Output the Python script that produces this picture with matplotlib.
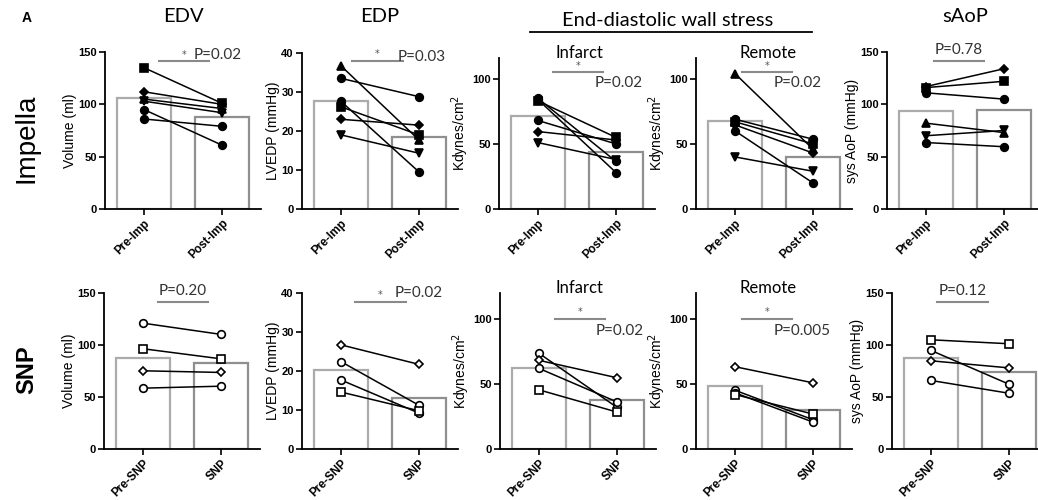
import matplotlib
matplotlib.use("Agg")
import numpy as np
import matplotlib.pyplot as plt

# ---- data ----
imp_labels = ["Pre-Imp", "Post-Imp"]
snp_labels = ["Pre-SNP", "SNP"]

# Impella row (filled markers)
edv_imp_pre = [135, 112, 105, 103, 95, 86]
edv_imp_post = [101, 100, 96, 92, 61, 79]
edp_imp_pre = [36.7, 33.5, 27.6, 26.2, 23.0, 19.0]
edp_imp_post = [17.7, 28.8, 9.5, 19.0, 21.5, 14.3]
inf_imp_pre = [85, 84, 83, 68, 59.5, 51]
inf_imp_post = [36.5, 28, 55, 50, 53, 38]
rem_imp_pre = [104, 69, 67, 64.6, 60, 40]
rem_imp_post = [46, 53.6, 50, 43, 20, 29]
aop_imp_pre = [117, 116, 111, 82, 70, 63.5]
aop_imp_post = [134, 122, 105, 73, 75, 59.5]

# SNP row (open markers)
edv_snp_pre = [121, 96.4, 75.2, 58.5]
edv_snp_post = [110.2, 86.7, 73.6, 60.4]
edp_snp_pre = [26.7, 22.4, 17.7, 14.6]
edp_snp_post = [21.7, 11.2, 9.2, 9.8]
inf_snp_pre = [73.6, 68.2, 62.0, 45.5]
inf_snp_post = [32.0, 54.8, 36.2, 28.4]
rem_snp_pre = [63.3, 45.2, 43.2, 41.9]
rem_snp_post = [50.9, 22.5, 20.7, 26.9]
aop_snp_pre = [105, 94.8, 84.8, 65.9]
aop_snp_post = [101.2, 62.3, 78.0, 53.6]

p_imp = ["P=0.02", "P=0.03", "P=0.02", "P=0.02", "P=0.78"]
p_snp = ["P=0.20", "P=0.02", "P=0.02", "P=0.005", "P=0.12"]
stars_imp = [True, True, True, True, False]
stars_snp = [False, True, True, True, False]

ylabels = ["Volume (ml)", "LVEDP (mmHg)", "Kdynes/cm$^2$", "Kdynes/cm$^2$", "sys AoP (mmHg)"]
yticks = [[0, 50, 100, 150], [0, 10, 20, 30, 40], [0, 50, 100], [0, 50, 100], [0, 50, 100, 150]]

# ---- styling ----
W, H = 1038, 500
BAR_PRE = "#ababab"
BAR_POST = "#8f8f8f"
SIG = "#8a8a8a"
TXT_FONT = "Lato"
AX_FONT = "Liberation Sans"

imp_markers = [
    ["s", "D", "^", "v", "o", "o"],
    ["^", "o", "o", "s", "D", "v"],
    ["o", "o", "s", "o", "D", "v"],
    ["^", "o", "s", "D", "o", "v"],
    ["D", "s", "o", "^", "v", "o"],
]
snp_markers = [
    ["o", "s", "D", "o"],
    ["D", "o", "o", "s"],
    ["o", "D", "o", "s"],
    ["D", "o", "o", "s"],
    ["s", "o", "D", "o"],
]

# significance bar layout: (x0, x1, y_line, text_x, text_y, ha)
sig_imp = [
    (0.19, 0.83, 141, 0.63, 147, "left"),
    (0.14, 0.79, 38, 0.73, 39, "left"),
    (0.19, 0.83, 105, 0.72, 97, "left"),
    (0.09, 0.73, 105, 0.50, 97, "left"),
    (0.10, 0.74, 141, 0.42, 152, "center"),
]
sig_snp = [
    (0.19, 0.83, 141, 0.51, 152, "center"),
    (0.18, 0.83, 37.7, 0.69, 40, "left"),
    (0.20, 0.85, 100, 0.73, 91, "left"),
    (0.09, 0.73, 100, 0.50, 91, "left"),
    (0.08, 0.73, 141, 0.41, 152, "center"),
]

imp_left = [105, 302, 499, 696, 887]
snp_left = [104, 302, 500, 696, 892]
imp_top = [52, 53, 58, 58, 52]
imp_ylim = [150, 40, 116, 116, 150]
snp_ylim = [150, 40, 120, 120, 150]


def make_ax(fig, left, top, bottom, width=156):
    return fig.add_axes([left / W, 1 - bottom / H, width / W, (bottom - top) / H])


def draw_panel(ax, pre, post, markers, filled, xlabels, ymax, ticks, ylabel, sig, ptext, star):
    x = np.array([0, 1])
    ax.bar(x, [np.mean(pre), np.mean(post)], width=0.68, color="white",
           edgecolor=[BAR_PRE, BAR_POST], linewidth=1.6, zorder=1)
    for a, b, m in zip(pre, post, markers):
        ax.plot(x, [a, b], color="black", linewidth=1.1, zorder=3,
                marker=m, markersize=5.5 if m != "D" else 4.5,
                markerfacecolor="black" if filled else "white",
                markeredgecolor="black", markeredgewidth=1.2)
    ax.set_xlim(-0.5, 1.5)
    ax.set_ylim(0, ymax)
    ax.set_yticks(ticks)
    ax.set_xticks(x)
    ax.set_xticklabels(xlabels, rotation=45, ha="right", rotation_mode="anchor",
                       fontsize=8.5, fontweight="bold", family=AX_FONT)
    for lab in ax.get_yticklabels():
        lab.set_fontsize(8)
        lab.set_fontweight("bold")
        lab.set_family(AX_FONT)
    ax.set_ylabel(ylabel, fontsize=10, family=AX_FONT, labelpad=1)
    for s in ("top", "right"):
        ax.spines[s].set_visible(False)
    for s in ("left", "bottom"):
        ax.spines[s].set_linewidth(1.3)
    ax.tick_params(length=4, width=1.2, pad=2)

    x0, x1, yl, tx, ty, ha = sig
    ax.plot([x0, x1], [yl, yl], color=SIG, linewidth=1.5, clip_on=False, zorder=2)
    if star:
        ax.text((x0 + x1) / 2, yl + ymax * 0.01, "*", color="#555555", fontsize=7,
                ha="center", va="bottom")
    ax.text(tx if ha == "left" else (x0 + x1) / 2, ty, ptext, fontsize=11,
            family=TXT_FONT, color="#333333", ha=ha, va="center", clip_on=False)


fig = plt.figure(figsize=(W / 100, H / 100), dpi=100)

imp_data = [(edv_imp_pre, edv_imp_post), (edp_imp_pre, edp_imp_post),
            (inf_imp_pre, inf_imp_post), (rem_imp_pre, rem_imp_post),
            (aop_imp_pre, aop_imp_post)]
snp_data = [(edv_snp_pre, edv_snp_post), (edp_snp_pre, edp_snp_post),
            (inf_snp_pre, inf_snp_post), (rem_snp_pre, rem_snp_post),
            (aop_snp_pre, aop_snp_post)]

for i in range(5):
    ax = make_ax(fig, imp_left[i], imp_top[i], 209)
    draw_panel(ax, *imp_data[i], imp_markers[i], True, imp_labels, imp_ylim[i],
               yticks[i], ylabels[i], sig_imp[i], p_imp[i], stars_imp[i])
    ax = make_ax(fig, snp_left[i], 293, 449)
    draw_panel(ax, *snp_data[i], snp_markers[i], False, snp_labels, snp_ylim[i],
               yticks[i], ylabels[i], sig_snp[i], p_snp[i], stars_snp[i])


# headers (pixel positions -> figure fraction)
def fx(px):
    return px / W


def fy(py):
    return 1 - py / H


fig.text(fx(27), fy(18), "A", fontsize=10, fontweight="bold", family=AX_FONT,
         ha="center", va="center")
for cx, label in [(183, "EDV"), (380, "EDP"), (965, "sAoP")]:
    fig.text(fx(cx), fy(17), label, fontsize=14.5, family=TXT_FONT, ha="center", va="center")
fig.text(fx(668), fy(20), "End-diastolic wall stress", fontsize=14.5, family=TXT_FONT,
         ha="center", va="center")
fig.add_artist(plt.Line2D([fx(530), fx(812)], [fy(32), fy(32)], color="black", linewidth=1.3))
for cy in (53, 288):
    fig.text(fx(579), fy(cy), "Infarct", fontsize=12, family=TXT_FONT, ha="center", va="center")
    fig.text(fx(768), fy(cy), "Remote", fontsize=12, family=TXT_FONT, ha="center", va="center")

fig.text(fx(27), fy(138), "Impella", fontsize=20, family=AX_FONT, rotation=90,
         ha="center", va="center")
fig.text(fx(27), fy(370), "SNP", fontsize=17, fontweight="bold", family=AX_FONT,
         rotation=90, ha="center", va="center")

fig.savefig("out.png", dpi=100, facecolor="white")
